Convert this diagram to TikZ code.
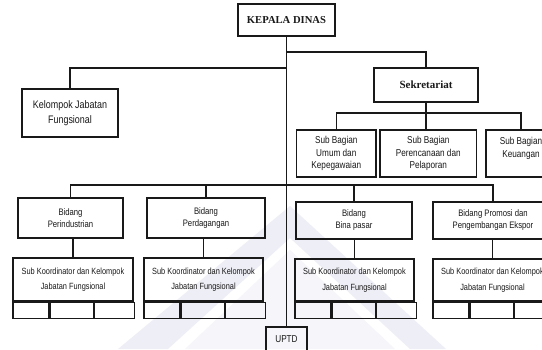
\documentclass[tikz,border=0pt]{standalone}
\usepackage{fontspec}
\setmainfont{Liberation Sans}[FakeStretch=0.82]
\newfontfamily\headfont{Liberation Serif}
\begin{document}
\begin{tikzpicture}[x=1pt,y=-1pt,
  ln/.style={draw=black!90, line width=1.1pt},
  box/.style={ln, inner sep=0pt, align=center, text=black!90},
  cell/.style={ln, inner sep=0pt, minimum height=16pt},
  fA/.style={font=\fontsize{10}{12.5}\selectfont},
  fB/.style={font=\fontsize{9.4}{12}\selectfont},
  fC/.style={font=\fontsize{9}{15.6}\selectfont},
  fK/.style={font=\fontsize{10.9}{15.6}\selectfont},
  fH/.style={font=\headfont\bfseries\fontsize{10.6}{12}\selectfont}]
\useasboundingbox (0,0) rectangle (542,349);
\clip (0,0) rectangle (542,349);
\fill[white] (0,0) rectangle (542,349);
% faint watermark
\fill[blue!30!gray!10] (290,206) -- (446,349) -- (410,349) -- (290,238) -- (168,349) -- (118,349) -- cycle;
\fill[blue!30!gray!6] (290,250) -- (395,349) -- (185,349) -- cycle;
% boxes
\node[box,fH,minimum width=97pt,minimum height=32pt] (kepala) at (286.5,20) {KEPALA DINAS};
\node[box,fK,minimum width=96pt,minimum height=48pt] (kjf) at (70,113) {Kelompok Jabatan\\Fungsional};
\node[box,fH,font=\headfont\bfseries\fontsize{11}{12}\selectfont,minimum width=104pt,minimum height=34pt] (sek) at (426,85) {Sekretariat};
\node[box,fA,minimum width=79.3pt,minimum height=47pt] (sb1) at (336.3,153.5) {Sub Bagian\\Umum dan\\Kepegawaian};
\node[box,fA,minimum width=96.7pt,minimum height=47pt] (sb2) at (428.3,153.5) {Sub Bagian\\Perencanaan dan\\Pelaporan};
\node[box,fA,minimum width=70pt,minimum height=47pt] (sb3) at (521,153.5) {Sub Bagian\\Keuangan\\\mbox{}};
\node[box,fB,minimum width=105pt,minimum height=40pt] (b1) at (70.5,218) {Bidang\\Perindustrian};
\node[box,fB,minimum width=118pt,minimum height=40pt] (b2) at (206,218) {Bidang\\Perdagangan};
\node[box,fB,minimum width=116pt,minimum height=37pt] (b3) at (354,220.5) {Bidang\\Bina pasar};
\node[box,fB,minimum width=120pt,minimum height=37pt] (b4) at (493,220.5) {Bidang Promosi dan\\Pengembangan Ekspor};
\node[box,fC,minimum width=120pt,minimum height=43pt] (s1) at (73,279.5) {Sub Koordinator dan Kelompok\\Jabatan Fungsional};
\node[box,fC,minimum width=119pt,minimum height=43pt] (s2) at (203.5,279.5) {Sub Koordinator dan Kelompok\\Jabatan Fungsional};
\node[box,fC,minimum width=119pt,minimum height=42pt] (s3) at (354.5,280) {Sub Koordinator dan Kelompok\\Jabatan Fungsional};
\node[box,fC,minimum width=119pt,minimum height=42pt] (s4) at (492.5,280) {Sub Koordinator dan Kelompok\\Jabatan Fungsional};
% cells under sub koordinator boxes
\foreach \s in {s1,s2,s3,s4}{
  \node[cell,anchor=north west,minimum width=36pt] (\s a) at (\s.south west) {};
  \node[cell,anchor=north west,minimum width=43.5pt] (\s b) at (\s a.north east) {};
  \node[cell,anchor=north west,minimum width=39.5pt] (\s c) at (\s b.north east) {};
}
\node[box,fA,minimum width=41pt,minimum height=25pt] (uptd) at (286.5,339.5) {UPTD};
% connectors
\coordinate (jk) at (286.5,68);
\coordinate (js) at (286.5,52);
\coordinate (jb) at (286.5,185);
\coordinate (jsb) at (426,113);
\draw[ln] (kepala.south) -- (uptd.north);
\draw[ln] (jk) -| (kjf.north);
\draw[ln] (js) -| (sek.north);
\draw[ln] (sb1.north) |- (jsb) -| (sb3.north);
\draw[ln] (sek.south) -- (sek.south |- sb2.north);
\draw[ln] (b1.north) |- (jb) -| (b4.north);
\draw[ln] (b2.north) -- (b2.north |- jb);
\draw[ln] (b3.north) -- (b3.north |- jb);
\draw[ln] (s1.north |- b1.south) -- (s1.north);
\draw[ln] (s2.north |- b2.south) -- (s2.north);
\draw[ln] (s3.north |- b3.south) -- (s3.north);
\draw[ln] (s4.north |- b4.south) -- (s4.north);
\end{tikzpicture}
\end{document}
